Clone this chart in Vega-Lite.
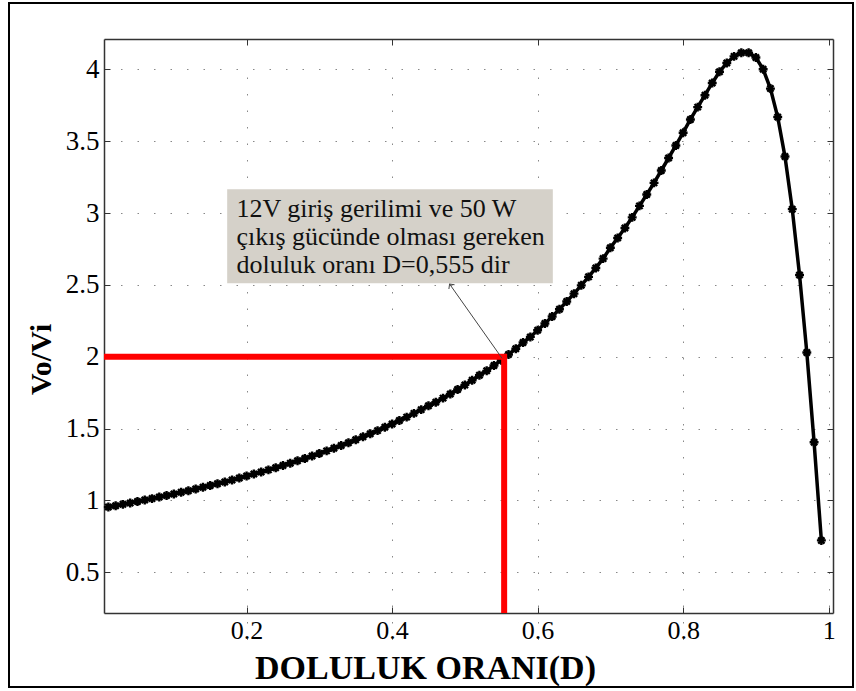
{
  "$schema": "https://vega.github.io/schema/vega-lite/v6.json",
  "width": 844,
  "height": 684,
  "autosize": {"type": "none"},
  "padding": {"left": 9, "top": 3, "right": 3, "bottom": 4},
  "background": "white",
  "config": {
    "view": {"stroke": "#000", "strokeWidth": 2},
    "font": "Liberation Serif"
  },
  "datasets": {
    "curve": [
      {"D": 0.01, "M": 0.954}, {"D": 0.02, "M": 0.963}, {"D": 0.03, "M": 0.973}, {"D": 0.04, "M": 0.983},
      {"D": 0.05, "M": 0.993}, {"D": 0.06, "M": 1.003}, {"D": 0.07, "M": 1.013}, {"D": 0.08, "M": 1.024},
      {"D": 0.09, "M": 1.034}, {"D": 0.10, "M": 1.045}, {"D": 0.11, "M": 1.057}, {"D": 0.12, "M": 1.068},
      {"D": 0.13, "M": 1.080}, {"D": 0.14, "M": 1.092}, {"D": 0.15, "M": 1.104}, {"D": 0.16, "M": 1.117},
      {"D": 0.17, "M": 1.129}, {"D": 0.18, "M": 1.142}, {"D": 0.19, "M": 1.156}, {"D": 0.20, "M": 1.170},
      {"D": 0.21, "M": 1.184}, {"D": 0.22, "M": 1.198}, {"D": 0.23, "M": 1.213}, {"D": 0.24, "M": 1.228},
      {"D": 0.25, "M": 1.243}, {"D": 0.26, "M": 1.259}, {"D": 0.27, "M": 1.276}, {"D": 0.28, "M": 1.292},
      {"D": 0.29, "M": 1.309}, {"D": 0.30, "M": 1.327}, {"D": 0.31, "M": 1.345}, {"D": 0.32, "M": 1.363},
      {"D": 0.33, "M": 1.382}, {"D": 0.34, "M": 1.402}, {"D": 0.35, "M": 1.422}, {"D": 0.36, "M": 1.443},
      {"D": 0.37, "M": 1.464}, {"D": 0.38, "M": 1.486}, {"D": 0.39, "M": 1.509}, {"D": 0.40, "M": 1.532},
      {"D": 0.41, "M": 1.556}, {"D": 0.42, "M": 1.580}, {"D": 0.43, "M": 1.606}, {"D": 0.44, "M": 1.632},
      {"D": 0.45, "M": 1.659}, {"D": 0.46, "M": 1.683}, {"D": 0.47, "M": 1.712}, {"D": 0.48, "M": 1.741},
      {"D": 0.49, "M": 1.772}, {"D": 0.50, "M": 1.804}, {"D": 0.51, "M": 1.837}, {"D": 0.52, "M": 1.871},
      {"D": 0.53, "M": 1.902}, {"D": 0.54, "M": 1.939}, {"D": 0.55, "M": 1.976}, {"D": 0.56, "M": 2.016},
      {"D": 0.57, "M": 2.056}, {"D": 0.58, "M": 2.099}, {"D": 0.59, "M": 2.138}, {"D": 0.60, "M": 2.184},
      {"D": 0.61, "M": 2.231}, {"D": 0.62, "M": 2.280}, {"D": 0.63, "M": 2.331}, {"D": 0.64, "M": 2.384},
      {"D": 0.65, "M": 2.439}, {"D": 0.66, "M": 2.497}, {"D": 0.67, "M": 2.556}, {"D": 0.68, "M": 2.618},
      {"D": 0.69, "M": 2.683}, {"D": 0.70, "M": 2.758}, {"D": 0.71, "M": 2.826}, {"D": 0.72, "M": 2.896},
      {"D": 0.73, "M": 2.970}, {"D": 0.74, "M": 3.050}, {"D": 0.75, "M": 3.129}, {"D": 0.76, "M": 3.210},
      {"D": 0.77, "M": 3.296}, {"D": 0.78, "M": 3.383}, {"D": 0.79, "M": 3.470}, {"D": 0.80, "M": 3.559},
      {"D": 0.81, "M": 3.651}, {"D": 0.82, "M": 3.737}, {"D": 0.83, "M": 3.820}, {"D": 0.84, "M": 3.905},
      {"D": 0.85, "M": 3.983}, {"D": 0.86, "M": 4.044}, {"D": 0.87, "M": 4.090}, {"D": 0.88, "M": 4.115},
      {"D": 0.89, "M": 4.115}, {"D": 0.90, "M": 4.082}, {"D": 0.91, "M": 4.000}, {"D": 0.92, "M": 3.866},
      {"D": 0.93, "M": 3.668}, {"D": 0.94, "M": 3.393}, {"D": 0.95, "M": 3.027}, {"D": 0.96, "M": 2.569},
      {"D": 0.97, "M": 2.030}, {"D": 0.98, "M": 1.405}, {"D": 0.99, "M": 0.722}
    ],
    "redline": [
      {"D": 0.004, "M": 2.0, "o": 1},
      {"D": 0.554, "M": 2.0, "o": 2},
      {"D": 0.554, "M": 0.217, "o": 3}
    ],
    "note": [
      {"x": 0.1733, "x2": 0.6209, "y": 3.165, "y2": 2.511}
    ]
  },
  "layer": [
    {
      "data": {"name": "curve"},
      "mark": {"type": "line", "color": "#000", "strokeWidth": 3.5},
      "encoding": {
        "x": {
          "field": "D", "type": "quantitative",
          "scale": {"domain": [0.004, 1.006], "range": [95, 824], "nice": false, "zero": false},
          "axis": {
            "orient": "bottom", "offset": -74,
            "values": [0.2, 0.4, 0.6, 0.8, 1], "format": "~g",
            "domainColor": "#333", "domainWidth": 1.5,
            "tickColor": "#333", "tickSize": -6, "tickWidth": 1,
            "labelFont": "Liberation Serif", "labelFontSize": 26, "labelColor": "#000",
            "labelPadding": 10, "labelFlush": false, "labelOverlap": false,
            "grid": true, "gridColor": "#888", "gridDash": [1.5, 15], "gridWidth": 1,
            "title": "DOLULUK ORANI(D)", "titleFont": "Liberation Serif", "titleFontWeight": "bold",
            "titleFontSize": 34, "titleColor": "#000", "titleX": 416, "titleY": 65,
            "titleAlign": "center", "titleBaseline": "alphabetic"
          }
        },
        "y": {
          "field": "M", "type": "quantitative",
          "scale": {"domain": [0.217, 4.211], "range": [610, 36], "nice": false, "zero": false},
          "axis": {
            "orient": "left", "offset": -95,
            "values": [0.5, 1, 1.5, 2, 2.5, 3, 3.5, 4], "format": "~g",
            "domainColor": "#333", "domainWidth": 1.5,
            "tickColor": "#333", "tickSize": -6, "tickWidth": 1,
            "labelFont": "Liberation Serif", "labelFontSize": 27, "labelColor": "#000",
            "labelPadding": 11, "labelFlush": false, "labelOverlap": false,
            "grid": true, "gridColor": "#888", "gridDash": [1.5, 15], "gridWidth": 1,
            "title": "Vo/Vi", "titleFont": "Liberation Serif", "titleFontWeight": "bold",
            "titleFontSize": 30, "titleColor": "#000", "titleX": -54, "titleY": 356,
            "titleAngle": 270, "titleAlign": "center", "titleBaseline": "alphabetic"
          }
        }
      }
    },
    {
      "data": {"name": "curve"},
      "mark": {"type": "point", "shape": "M-1,0L1,0M0,-1L0,1M-0.7,-0.7L0.7,0.7M-0.7,0.7L0.7,-0.7", "filled": false, "color": "#000", "strokeWidth": 2.4, "size": 80, "opacity": 1},
      "encoding": {
        "x": {
          "field": "D", "type": "quantitative",
          "axis": {
            "orient": "top", "offset": -36, "values": [0.2, 0.4, 0.6, 0.8, 1],
            "labels": false, "grid": false, "title": null,
            "domainColor": "#333", "domainWidth": 1.5,
            "tickColor": "#333", "tickSize": -6, "tickWidth": 1
          }
        },
        "y": {
          "field": "M", "type": "quantitative",
          "axis": {
            "orient": "right", "offset": -20, "values": [0.5, 1, 1.5, 2, 2.5, 3, 3.5, 4],
            "labels": false, "grid": false, "title": null,
            "domainColor": "#333", "domainWidth": 1.5,
            "tickColor": "#333", "tickSize": -6, "tickWidth": 1
          }
        }
      }
    },
    {
      "data": {"name": "redline"},
      "mark": {"type": "line", "color": "#ff0000", "strokeWidth": 6, "strokeJoin": "miter", "strokeCap": "butt"},
      "encoding": {
        "x": {"field": "D", "type": "quantitative", "axis": null},
        "y": {"field": "M", "type": "quantitative", "axis": null},
        "order": {"field": "o", "type": "quantitative"}
      }
    },
    {
      "data": {"name": "note"},
      "mark": {"type": "rect", "fill": "#d5d1c9"},
      "encoding": {
        "x": {"field": "x", "type": "quantitative", "axis": null},
        "x2": {"field": "x2"},
        "y": {"field": "y", "type": "quantitative", "axis": null},
        "y2": {"field": "y2"}
      }
    },
    {
      "data": {"name": "note"},
      "mark": {"type": "text", "align": "left", "baseline": "alphabetic", "font": "Liberation Serif", "fontSize": 26, "lineHeight": 28.3, "color": "#111"},
      "encoding": {
        "x": {"datum": 0.186, "axis": null},
        "y": {"datum": 2.974, "axis": null},
        "text": {"value": ["12V giriş gerilimi ve 50 W", "çıkış gücünde olması gereken", "doluluk oranı D=0,555 dir"]}
      }
    },
    {
      "data": {"name": "note"},
      "mark": {"type": "rule", "color": "#444", "strokeWidth": 1},
      "encoding": {
        "x": {"datum": 0.551, "axis": null},
        "y": {"datum": 1.99, "axis": null},
        "x2": {"datum": 0.479},
        "y2": {"datum": 2.506}
      }
    },
    {
      "data": {"name": "note"},
      "mark": {"type": "point", "shape": "M-1,1L0,0L1,1", "filled": false, "color": "#444", "strokeWidth": 1, "size": 50, "angle": 323, "opacity": 1},
      "encoding": {
        "x": {"datum": 0.479, "axis": null},
        "y": {"datum": 2.506, "axis": null}
      }
    }
  ]
}
